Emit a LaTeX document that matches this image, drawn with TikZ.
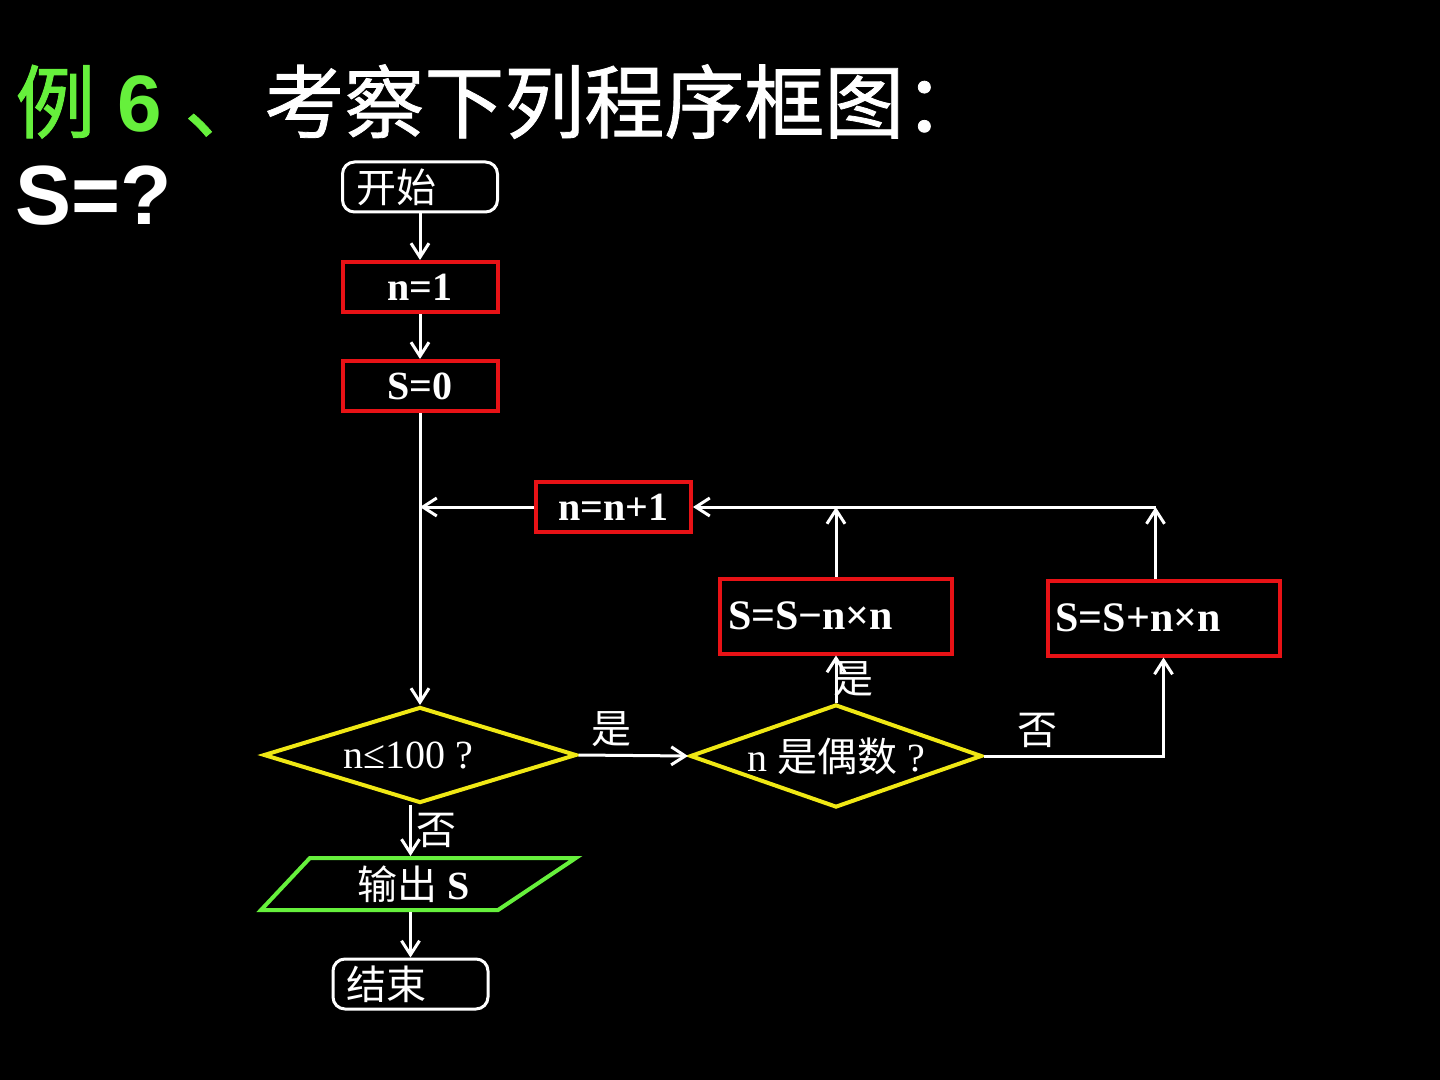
\documentclass[tikz,border=0pt]{standalone}
\usepackage{fontspec}
\setmainfont{Liberation Serif}
\newfontfamily\cjk{Noto Sans CJK SC}
\newfontfamily\cjkhead{Noto Sans CJK SC}[FakeBold=1]
\newfontfamily\headfont{Liberation Sans}
\usetikzlibrary{arrows.meta,shapes.geometric}
\definecolor{boxred}{RGB}{232,18,22}
\definecolor{diayellow}{RGB}{240,232,20}
\definecolor{litegreen}{RGB}{102,240,60}

\begin{document}
\begin{tikzpicture}[x=0.5pt,y=-0.5pt,
		every node/.style={text=white, font=\fontsize{20}{24}\selectfont\bfseries},
		term/.style={draw=white, line width=1.5pt, rounded corners=6pt, minimum width=77.5pt, minimum height=25pt, inner sep=0pt, text width=64pt, align=left, font=\cjk\fontsize{20}{24}\selectfont},
		proc/.style={draw=boxred, line width=2pt, minimum width=77.5pt, minimum height=25pt, inner sep=0pt},
		wide/.style={proc, minimum width=116pt, minimum height=37.5pt, text width=108pt, align=left, font=\fontsize{21}{24}\selectfont\bfseries},
		test/.style={diamond, draw=diayellow, line width=2pt, inner sep=0pt, aspect=2.8, font=\fontsize{20}{24}\selectfont},
		io/.style={trapezium, trapezium left angle=47, trapezium right angle=146, trapezium stretches=true, draw=litegreen, line width=2pt, minimum width=157.5pt, minimum height=26pt, inner sep=0pt},
		lab/.style={font=\cjk\fontsize{20}{24}\selectfont},
		arr/.style={draw=white, line width=1.5pt, -{Straight Barb[length=7pt, width=9pt]}}
	]
		\fill[black] (0,0) rectangle (1440,1080);
		% heading
		\node[anchor=base west, inner sep=0pt, font=\headfont\bfseries\fontsize{40}{48}\selectfont] (title) at (15,132)
		{\textcolor{litegreen}{{\cjkhead\mdseries 例} 6 {\cjkhead\mdseries 、}}{\cjkhead\mdseries 考察下列程序框图：}};
		\node[anchor=base west, inner sep=0pt, font=\headfont\bfseries\fontsize{42}{48}\selectfont] (ask) at (15,225) {S=?};
		% flow chart
		\node[term] (start) at (420,187) {开始};
		\node[proc] (n1) at (420,287) {n=1};
		\node[proc] (s0) at (420,386) {S=0};
		\node[proc] (inc) at (613.5,507) {n=n+1};
		\node[test, minimum width=156.5pt, minimum height=48pt] (cond1) at (420,755) {n≤100 ?\hspace*{12pt}};
		\node[test, minimum width=146pt, minimum height=51.5pt] (cond2) at (836,756) {n {\cjk 是偶数} ?};
		\node[wide] (sub) at (836,616) {S=S−n×n};
		\node[wide] (add) at (1163.5,618) {S=S+n×n};
		\node[io] (out) at (404,884) {\hspace*{10pt}{\cjk\mdseries 输出} S};
		\node[term] (stop) at (410.5,984) {结束};
		\coordinate (back) at (s0.south |- inc.west);
		\coordinate (subtop) at (sub.north |- inc.east);
		\coordinate (addtop) at ([xshift=-4pt]add.north |- inc.east);

		\draw[arr] (start) -- (n1);
		\draw[arr] (n1) -- (s0);
		\draw[arr] (s0) -- (cond1);
		\draw[arr] (inc.west) -- (back);
		\draw[arr] (cond1.east) -- node[lab, above, pos=0.3] {是} (cond2.west);
		\draw[arr] (cond2.north) -- node[lab, right, inner sep=0pt, xshift=-2pt] {是} (sub.south);
		\draw[arr] (cond2.east) -- node[lab, above, pos=0.3] {否} (cond2.east -| add.south) -- (add.south);
		\draw[arr] ([xshift=-4pt]add.north) -- (addtop);
		\draw[arr] (sub.north) -- (subtop);
		\draw[arr] (addtop) -- (inc.east);
		\draw[arr] (cond1.south -| stop.north) -- node[lab, right, inner sep=2pt] {否} (out.north -| stop.north);
		\draw[arr] (out.south -| stop.north) -- (stop.north);
	\end{tikzpicture}
\end{document}
